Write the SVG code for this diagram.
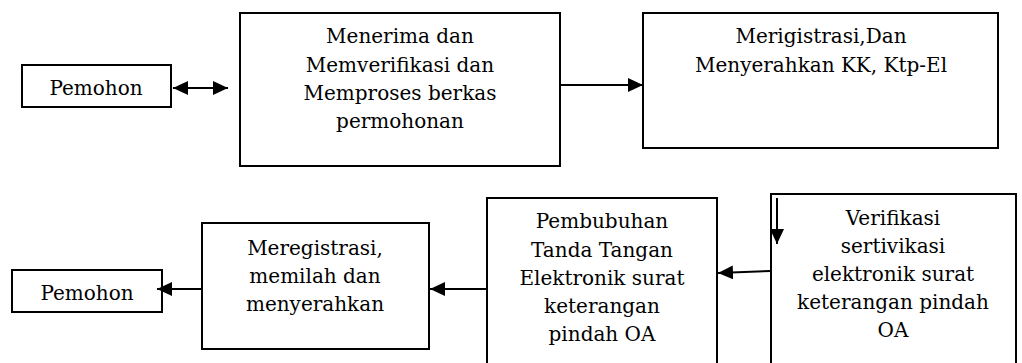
<svg xmlns="http://www.w3.org/2000/svg" width="1022" height="363" viewBox="0 0 1022 363">
<style>
.box{fill:#fff;stroke:#000;stroke-width:2}
.t{font-family:"DejaVu Serif","Liberation Serif",serif;font-size:20px;fill:#000;text-anchor:middle}
.c{stroke:#000;stroke-width:2;fill:none}
</style>
<defs>
<marker id="ah" viewBox="0 0 15 14" refX="15" refY="7" markerWidth="15" markerHeight="14" markerUnits="userSpaceOnUse" orient="auto-start-reverse">
<path d="M0,0 L15,7 L0,14 Z" fill="#000"/>
</marker>
</defs>
<rect width="1022" height="363" fill="#fff"/>
<g id="n-pemohon1"><rect class="box" x="22" y="65" width="149" height="42"/><text class="t" x="96" y="95">Pemohon</text></g>
<g id="n-menerima"><rect class="box" x="240" y="13" width="320" height="153"/>
<text class="t" x="400" y="43">Menerima dan</text>
<text class="t" x="400" y="72">Memverifikasi dan</text>
<text class="t" x="400" y="100">Memproses berkas</text>
<text class="t" x="400" y="128">permohonan</text></g>
<g id="n-merigistrasi"><rect class="box" x="643" y="13" width="355" height="135"/>
<text class="t" x="821" y="43">Merigistrasi,Dan</text>
<text class="t" x="821" y="72">Menyerahkan KK, Ktp-El</text></g>
<g id="n-verifikasi"><rect class="box" x="771" y="194" width="245" height="175"/>
<text class="t" x="893" y="225">Verifikasi</text>
<text class="t" x="893" y="253">sertivikasi</text>
<text class="t" x="893" y="281">elektronik surat</text>
<text class="t" x="893" y="309">keterangan pindah</text>
<text class="t" x="893" y="337">OA</text></g>
<g id="n-pembubuhan"><rect class="box" x="487" y="198" width="230" height="171"/>
<text class="t" x="602" y="228">Pembubuhan</text>
<text class="t" x="602" y="257">Tanda Tangan</text>
<text class="t" x="602" y="285">Elektronik surat</text>
<text class="t" x="602" y="313">keterangan</text>
<text class="t" x="602" y="341">pindah OA</text></g>
<g id="n-meregistrasi"><rect class="box" x="202" y="223" width="227" height="126"/>
<text class="t" x="315" y="255">Meregistrasi,</text>
<text class="t" x="315" y="283">memilah dan</text>
<text class="t" x="315" y="311">menyerahkan</text></g>
<g id="n-pemohon2"><rect class="box" x="12" y="270" width="150" height="42"/><text class="t" x="87" y="300">Pemohon</text></g>
<g id="connectors">
<line class="c" x1="173" y1="88" x2="228" y2="88" marker-start="url(#ah)" marker-end="url(#ah)"/>
<line class="c" x1="560" y1="85" x2="643" y2="85" marker-end="url(#ah)"/>
<line class="c" x1="777" y1="198" x2="777" y2="244" marker-end="url(#ah)"/>
<line class="c" x1="771" y1="271" x2="718" y2="273" marker-end="url(#ah)"/>
<line class="c" x1="487" y1="289" x2="430" y2="289" marker-end="url(#ah)"/>
<line class="c" x1="202" y1="289" x2="157" y2="289" marker-end="url(#ah)"/>
</g>
</svg>
